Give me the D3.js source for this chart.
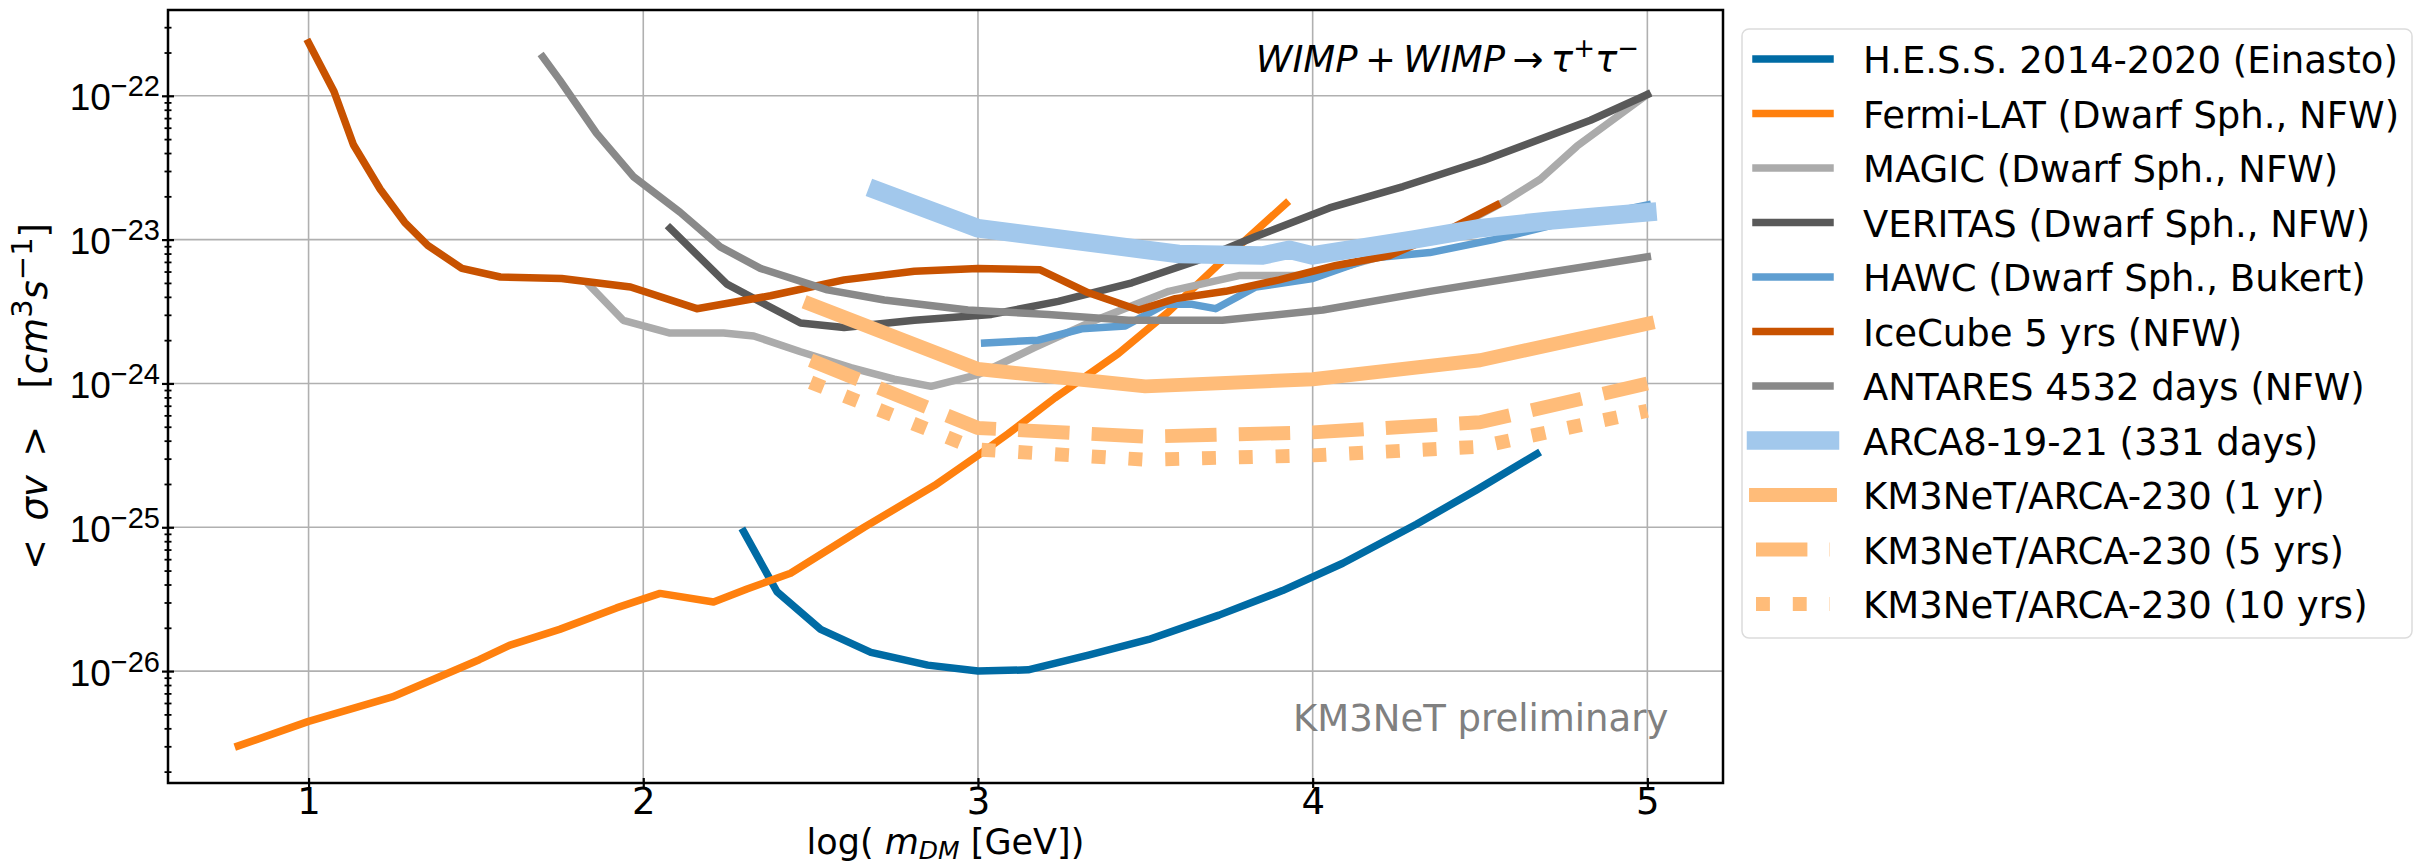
<!DOCTYPE html>
<html>
<head>
<meta charset="utf-8">
<script src="https://cdn.jsdelivr.net/npm/d3@7"></script>
<style>
  body { margin: 0; background: #fff; }
  svg { display: block; font-family: "DejaVu Sans", sans-serif; }
</style>
</head>
<body>
<svg id="chart" width="2425" height="864"></svg>
<script>
/*------------------- data (x = log10 of mass in GeV, y = <sigma v> in cm^3 s^-1) -------------------*/
const hess_x = [2.30, 2.40, 2.53, 2.68, 2.85, 3.00, 3.15, 3.33, 3.51, 3.72, 3.91, 4.09, 4.31, 4.49, 4.67];
const hess_y = [9.33e-26, 3.55e-26, 1.95e-26, 1.35e-26, 1.10e-26, 1.0e-26, 1.02e-26, 1.29e-26, 1.66e-26,
                2.45e-26, 3.63e-26, 5.62e-26, 1.05e-25, 1.82e-25, 3.24e-25];

const fermi_x = [0.79, 1.00, 1.25, 1.51, 1.60, 1.75, 1.92, 2.05, 2.21, 2.31, 2.44, 2.66, 2.87, 3.00,
                 3.09, 3.23, 3.42, 3.57, 3.72, 3.92];
const fermi_y = [3.02e-27, 4.47e-27, 6.61e-27, 1.20e-26, 1.51e-26, 1.95e-26, 2.75e-26, 3.47e-26, 3.02e-26,
                 3.72e-26, 4.79e-26, 1.0e-25, 1.95e-25, 3.16e-25, 4.47e-25, 7.94e-25, 1.62e-24, 3.16e-24,
                 6.76e-24, 1.78e-23];

const magic_x = [1.84, 1.94, 2.08, 2.24, 2.33, 2.47, 2.62, 2.75, 2.86, 3.00, 3.17, 3.33, 3.57, 3.78,
                 4.00, 4.20, 4.40, 4.57, 4.68, 4.79, 5.00];
const magic_y = [4.79e-24, 2.75e-24, 2.24e-24, 2.24e-24, 2.14e-24, 1.66e-24, 1.29e-24, 1.07e-24, 9.55e-25,
                 1.15e-24, 1.78e-24, 2.63e-24, 4.37e-24, 5.62e-24, 5.62e-24, 7.59e-24, 1.12e-23, 1.82e-23,
                 2.63e-23, 4.47e-23, 1.02e-22];

const veritas_x = [2.08, 2.25, 2.47, 2.60, 2.81, 3.04, 3.24, 3.46, 3.65, 3.83, 4.05, 4.27, 4.51, 4.83, 5.00];
const veritas_y = [1.20e-23, 4.90e-24, 2.63e-24, 2.45e-24, 2.75e-24, 3.02e-24, 3.72e-24, 5.01e-24, 7.08e-24,
                   1.05e-23, 1.66e-23, 2.34e-23, 3.55e-23, 6.76e-23, 1.02e-22];

const hawc_x = [3.02, 3.18, 3.31, 3.44, 3.56, 3.64, 3.71, 3.83, 4.00, 4.17, 4.35, 4.54, 4.75, 5.00];
const hawc_y = [1.91e-24, 2.00e-24, 2.40e-24, 2.51e-24, 3.55e-24, 3.55e-24, 3.31e-24, 4.68e-24, 5.37e-24,
                7.41e-24, 8.13e-24, 1.0e-23, 1.32e-23, 1.74e-23];

const icecube_x = [1.00, 1.076, 1.134, 1.214, 1.287, 1.356, 1.458, 1.573, 1.756, 1.962, 2.16, 2.38, 2.60,
                   2.81, 3.00, 3.186, 3.33, 3.48, 3.59, 3.74, 3.90, 4.07, 4.23, 4.39, 4.55];
const icecube_y = [2.34e-22, 1.07e-22, 4.57e-23, 2.24e-23, 1.32e-23, 9.12e-24, 6.31e-24, 5.50e-24, 5.37e-24,
                   4.68e-24, 3.31e-24, 4.07e-24, 5.25e-24, 6.03e-24, 6.31e-24, 6.17e-24, 4.27e-24, 3.24e-24,
                   3.89e-24, 4.37e-24, 5.25e-24, 6.61e-24, 7.76e-24, 1.12e-23, 1.74e-23];

const antares_x = [1.70, 1.75, 1.86, 1.97, 2.11, 2.23, 2.35, 2.55, 2.72, 2.97, 3.21, 3.45, 3.73, 4.03,
                   4.35, 4.67, 5.00];
const antares_y = [1.86e-22, 1.29e-22, 5.50e-23, 2.75e-23, 1.55e-23, 8.91e-24, 6.31e-24, 4.47e-24, 3.80e-24,
                   3.24e-24, 3.02e-24, 2.75e-24, 2.75e-24, 3.24e-24, 4.37e-24, 5.75e-24, 7.59e-24];

const arca8_x = [2.70, 3.00, 3.50, 3.60, 3.85, 3.93, 4.00, 4.30, 4.50, 4.70, 4.85, 5.00];
const arca8_y = [2.19e-23, 1.20e-23, 8.51e-24, 7.94e-24, 7.76e-24, 8.51e-24, 7.76e-24, 1.0e-23, 1.20e-23,
                 1.35e-23, 1.45e-23, 1.55e-23];

const arca230_x = [2.5, 3.0, 3.5, 4.0, 4.5, 5.0];
const arca230_1yr = [3.55e-24, 1.26e-24, 9.55e-25, 1.07e-24, 1.45e-24, 2.6e-24];
const arca230_5yr = [1.45e-24, 4.90e-25, 4.27e-25, 4.57e-25, 5.37e-25, 1.0e-24];
const arca230_10yr = [1.02e-24, 3.47e-25, 2.95e-25, 3.16e-25, 3.63e-25, 6.46e-25];

const x_ticks = [1, 2, 3, 4, 5];
const y_decades = [-26, -25, -24, -23, -22];

/*------------------- series table (legend order = drawing order) -------------------*/
const series = [
    { label: "H.E.S.S. 2014-2020 (Einasto)", x: hess_x, y: hess_y, color: "#006BA4", lw: 7.5 },
    { label: "Fermi-LAT (Dwarf Sph., NFW)", x: fermi_x, y: fermi_y, color: "#FF800E", lw: 7.5 },
    { label: "MAGIC (Dwarf Sph., NFW)", x: magic_x, y: magic_y, color: "#ABABAB", lw: 7.5 },
    { label: "VERITAS (Dwarf Sph., NFW)", x: veritas_x, y: veritas_y, color: "#595959", lw: 7.5 },
    { label: "HAWC (Dwarf Sph., Bukert)", x: hawc_x, y: hawc_y, color: "#5F9ED1", lw: 7.5 },
    { label: "IceCube 5 yrs (NFW)", x: icecube_x, y: icecube_y, color: "#C85200", lw: 7.5 },
    { label: "ANTARES 4532 days (NFW)", x: antares_x, y: antares_y, color: "#898989", lw: 7.5 },
    { label: "ARCA8-19-21 (331 days)", x: arca8_x, y: arca8_y, color: "#A2C8EC", lw: 18.5 },
    { label: "KM3NeT/ARCA-230 (1 yr)", x: arca230_x, y: arca230_1yr, color: "#FFBC79", lw: 13.9 },
    { label: "KM3NeT/ARCA-230 (5 yrs)", x: arca230_x, y: arca230_5yr, color: "#FFBC79", lw: 13.9, dash: "51.4,22.2" },
    { label: "KM3NeT/ARCA-230 (10 yrs)", x: arca230_x, y: arca230_10yr, color: "#FFBC79", lw: 13.9, dash: "13.9,22.9" }
];

/*------------------- layout -------------------*/
const plot = { left: 168, right: 1723, top: 10, bottom: 783 };
const FONT = 37;
const SUP = 29;

const svg = d3.select("#chart");
svg.append("rect").attr("width", 2425).attr("height", 864).attr("fill", "#fff");

const x = d3.scaleLinear()
    .domain([0.58, 5.226])
    .range([plot.left, plot.right]);

const y = d3.scaleLog()
    .domain([1.667e-27, 3.95e-22])
    .range([plot.bottom, plot.top]);

const decadeVals = y_decades.map(e => Math.pow(10, e));
// minor ticks 2..9 of every decade inside the domain
let minorVals = [];
for (let e = -27; e <= -22; e++) {
    for (let m = 2; m <= 9; m++) {
        const v = m * Math.pow(10, e);
        if (v >= y.domain()[0] && v <= y.domain()[1]) minorVals.push(v);
    }
}

/*------------------- grid -------------------*/
const grid = svg.append("g").attr("stroke", "#b0b0b0").attr("stroke-width", 1.6);
grid.selectAll("line.gx").data(x_ticks).enter().append("line")
    .attr("x1", d => x(d)).attr("x2", d => x(d))
    .attr("y1", plot.top).attr("y2", plot.bottom);
grid.selectAll("line.gy").data(decadeVals).enter().append("line")
    .attr("x1", plot.left).attr("x2", plot.right)
    .attr("y1", d => y(d)).attr("y2", d => y(d));

/*------------------- curves -------------------*/
const line = d3.line()
    .x(d => x(d[0]))
    .y(d => y(d[1]));

const curves = svg.append("g");

series.forEach(s => {
    curves.append("path")
        .datum(s.x.map((v, i) => [v, s.y[i]]))
        .attr("d", line)
        .attr("fill", "none")
        .attr("stroke", s.color)
        .attr("stroke-width", s.lw)
        .attr("stroke-linejoin", "round")
        .attr("stroke-linecap", s.dash ? "butt" : "square")
        .attr("stroke-dasharray", s.dash || null);
});

/*------------------- text annotations -------------------*/
const title = svg.append("text")
    .attr("x", 1639).attr("y", 72)
    .attr("text-anchor", "end")
    .attr("font-size", FONT);
title.append("tspan").attr("font-style", "italic").text("WIMP");
title.append("tspan").text("\u2009+\u2009");
title.append("tspan").attr("font-style", "italic").text("WIMP");
title.append("tspan").text("\u2009\u2192\u2009");
title.append("tspan").attr("font-style", "italic").text("\u03C4");
title.append("tspan").attr("font-size", SUP - 3).attr("dy", -15).text("+");
title.append("tspan").attr("font-style", "italic").attr("dy", 15).text("\u03C4");
title.append("tspan").attr("font-size", SUP - 3).attr("dy", -15).text("\u2212");

svg.append("text")
    .attr("x", 1293).attr("y", 731)
    .attr("font-size", FONT)
    .attr("fill", "#808080")
    .text("KM3NeT preliminary");

/*------------------- axes -------------------*/
// x axis ticks (in-out) and labels
const xAxis = svg.append("g")
    .attr("transform", "translate(0," + plot.bottom + ")")
    .call(d3.axisBottom(x).tickValues(x_ticks).tickFormat(d3.format("d")).tickSize(0).tickPadding(0));
xAxis.select(".domain").remove();
xAxis.selectAll(".tick line").attr("y1", -5).attr("y2", 5).attr("stroke", "#000").attr("stroke-width", 2.2);
xAxis.selectAll(".tick text")
    .attr("y", 31).attr("dy", null)
    .attr("font-size", FONT)
    .attr("font-family", "DejaVu Sans")
    .attr("fill", "#000");

// y axis: major decades with 10^n labels, minor ticks
const yAxis = svg.append("g")
    .attr("transform", "translate(" + plot.left + ",0)")
    .call(d3.axisLeft(y).tickValues(decadeVals).tickFormat("").tickSize(0));
yAxis.select(".domain").remove();
yAxis.selectAll(".tick line").attr("x1", -6).attr("x2", 6).attr("stroke", "#000").attr("stroke-width", 2.2);
yAxis.selectAll(".tick text").remove();
yAxis.selectAll(".tick").each(function (d) {
    const t = d3.select(this).append("text")
        .attr("x", -8).attr("y", 14)
        .attr("text-anchor", "end")
        .attr("font-size", FONT)
        .attr("fill", "#000");
    t.append("tspan").text("10");
    t.append("tspan").attr("font-size", SUP).attr("dy", -14)
        .text("\u2212" + Math.abs(Math.round(Math.log10(d))));
});

const yMinor = svg.append("g")
    .attr("transform", "translate(" + plot.left + ",0)")
    .call(d3.axisLeft(y).tickValues(minorVals).tickFormat("").tickSize(0));
yMinor.select(".domain").remove();
yMinor.selectAll(".tick line").attr("x1", -3.5).attr("x2", 3.5).attr("stroke", "#000").attr("stroke-width", 1.8);

// frame
svg.append("rect")
    .attr("x", plot.left).attr("y", plot.top)
    .attr("width", plot.right - plot.left)
    .attr("height", plot.bottom - plot.top)
    .attr("fill", "none")
    .attr("stroke", "#000")
    .attr("stroke-width", 2.5);

// axis titles
const xLabel = svg.append("text")
    .attr("x", (plot.left + plot.right) / 2).attr("y", 854)
    .attr("text-anchor", "middle")
    .attr("font-size", 35);
xLabel.append("tspan").text("log( ");
xLabel.append("tspan").attr("font-style", "italic").text("m");
xLabel.append("tspan").attr("font-style", "italic").attr("font-size", 25).attr("dy", 5).text("DM");
xLabel.append("tspan").attr("dy", -5).text(" [GeV])");

const yLabel = svg.append("text")
    .attr("transform", "translate(47," + ((plot.top + plot.bottom) / 2) + ") rotate(-90)")
    .attr("text-anchor", "middle")
    .attr("font-size", FONT);
yLabel.append("tspan").text("<\u2002");
yLabel.append("tspan").attr("font-style", "italic").text("\u03C3v");
yLabel.append("tspan").text("\u2002>\u2002\u2002[");
yLabel.append("tspan").attr("font-style", "italic").text("cm");
yLabel.append("tspan").attr("font-size", SUP).attr("dy", -15).text("3");
yLabel.append("tspan").attr("font-style", "italic").attr("dy", 15).text("s");
yLabel.append("tspan").attr("font-size", SUP).attr("dy", -15).text("\u22121");
yLabel.append("tspan").attr("dy", 15).text("]");

/*------------------- legend -------------------*/
const legend = svg.append("g");
legend.append("rect")
    .attr("x", 1742).attr("y", 29)
    .attr("width", 670).attr("height", 609)
    .attr("rx", 7).attr("ry", 7)
    .attr("fill", "#fff").attr("fill-opacity", 0.8)
    .attr("stroke", "#dcdcdc").attr("stroke-width", 1.5);

const rowY = i => 59 + i * 54.5;
series.forEach((s, i) => {
    legend.append("line")
        .attr("x1", 1756).attr("x2", 1830)
        .attr("y1", rowY(i)).attr("y2", rowY(i))
        .attr("stroke", s.color)
        .attr("stroke-width", s.lw)
        .attr("stroke-linecap", s.dash ? "butt" : "square")
        .attr("stroke-dasharray", s.dash || null);
    legend.append("text")
        .attr("x", 1863).attr("y", rowY(i) + 14)
        .attr("font-size", FONT)
        .attr("fill", "#000")
        .text(s.label);
});
</script>
</body>
</html>
